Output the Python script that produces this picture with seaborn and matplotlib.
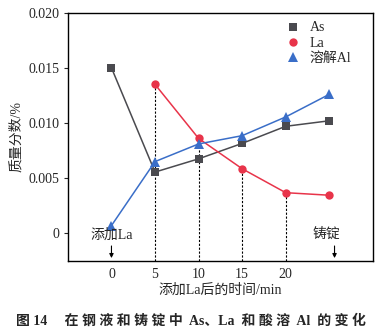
import matplotlib
matplotlib.use("Agg")
import matplotlib.pyplot as plt
import seaborn as sns
import pandas as pd

sns.set_theme(style="white")
plt.rcParams['font.family'] = ['Liberation Serif', 'Noto Sans CJK SC']
plt.rcParams['mathtext.fontset'] = 'stix'

times = [0, 5, 10, 15, 20, 25]
as_vals = [0.0150, 0.00555, 0.00675, 0.00815, 0.00970, 0.01020]
la_times = [5, 10, 15, 20, 25]
la_vals = [0.01350, 0.00860, 0.00585, 0.00368, 0.00345]
al_vals = [0.00070, 0.00650, 0.00810, 0.00885, 0.01055, 0.01260]
xticks = [0, 5, 10, 15, 20]
yticks = [0, 0.005, 0.010, 0.015, 0.020]
ytick_labels = ["0", "0.005", "0.010", "0.015", "0.020"]

df = pd.concat([
    pd.DataFrame({"t": times, "v": as_vals, "s": "As"}),
    pd.DataFrame({"t": la_times, "v": la_vals, "s": "La"}),
    pd.DataFrame({"t": times, "v": al_vals, "s": "溶解Al"}),
], ignore_index=True)

palette = {"As": "#4a4a4f", "La": "#e8344a", "溶解Al": "#3a6ec8"}
markers = {"As": "s", "La": "o", "溶解Al": "^"}
msizes = {"As": 5.2, "La": 6.0, "溶解Al": 6.5}

fig = plt.figure(figsize=(3.88, 3.34), dpi=100)
ax = fig.add_axes([0.175, 0.219, 0.786, 0.743])

# dotted vertical guides
for t, v in zip(la_times[:-1], la_vals[:-1]):
    ax.plot([t, t], [-0.0025, v], ls=(0, (2, 1.5)), color="black", lw=0.8, zorder=1)

for name in ["As", "La", "溶解Al"]:
    sub = df[df.s == name]
    sns.lineplot(data=sub, x="t", y="v", ax=ax, color=palette[name], lw=1.1,
                 marker=markers[name], markersize=msizes[name], markeredgewidth=0,
                 label=name, zorder=3)

ax.set_xlim(-5, 30)
ax.set_ylim(-0.0025, 0.020)
ax.set_xticks(xticks)
ax.set_xticklabels([str(x) for x in xticks])
ax.set_yticks(yticks)
ax.set_yticklabels(ytick_labels)
ax.tick_params(axis='x', length=0, labelsize=10, pad=5)
ax.tick_params(axis='y', length=3, width=0.8, direction='out', labelsize=10, left=True, pad=3)
for sp in ax.spines.values():
    sp.set_color("black")
    sp.set_linewidth(1.0)
ax.set_xlabel("添加La后的时间/min", fontsize=10, labelpad=2)
ax.set_ylabel("质量分数/%", fontsize=10, labelpad=4)

leg = ax.legend(loc="upper right", frameon=False, fontsize=10, handlelength=1.2,
                handletextpad=0.6, labelspacing=0.15, bbox_to_anchor=(0.97, 1.015))
for h in leg.legend_handles:
    h.set_linestyle("none")

ax.text(0, -0.0002, "添加La", ha="center", va="center", fontsize=10)
ax.annotate("", xy=(0, -0.0025), xytext=(0, -0.0009),
            arrowprops=dict(arrowstyle="-|>", color="black", lw=0.8, mutation_scale=6))
ax.text(24.7, -0.0001, "铸锭", ha="center", va="center", fontsize=10)
ax.annotate("", xy=(25.6, -0.0025), xytext=(25.6, -0.0009),
            arrowprops=dict(arrowstyle="-|>", color="black", lw=0.8, mutation_scale=6))

fig.text(0.04, 0.04, "图 14　 在 钢 液 和 铸 锭 中  As、La  和 酸 溶  Al  的 变 化", fontsize=10,
         fontweight="bold", ha="left", va="center")

fig.savefig("out.png", dpi=100)
